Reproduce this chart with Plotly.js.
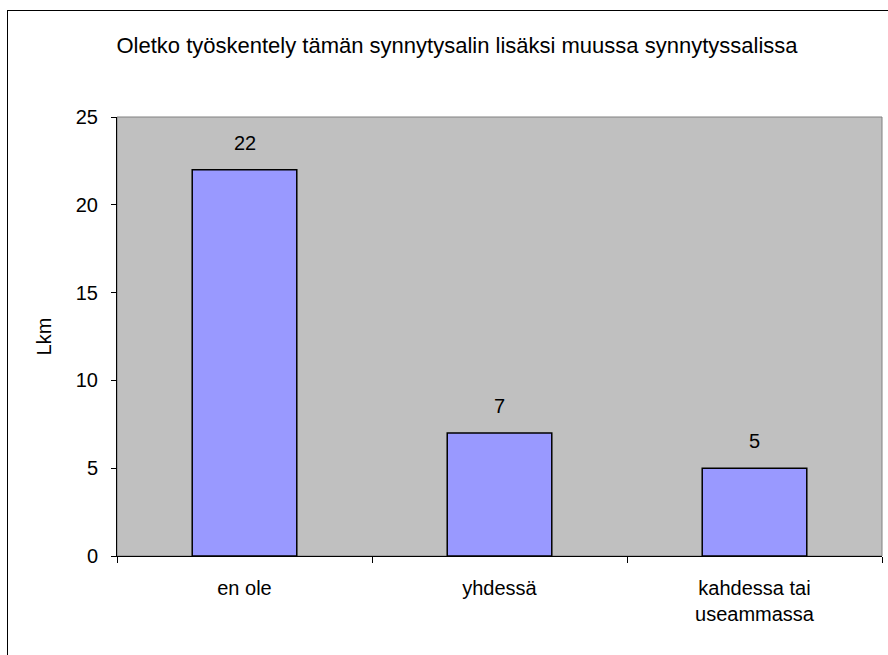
<!DOCTYPE html>
<html>
<head>
<meta charset="utf-8">
<script src="https://cdn.plot.ly/plotly-3.0.1.min.js"></script>
<style>
html,body{margin:0;padding:0;background:#fff;}
#wrap{position:relative;width:888px;height:655px;overflow:hidden;}
#chart{width:888px;height:655px;}
#frame{position:absolute;left:7px;top:10px;width:920px;height:700px;border:1px solid #000;pointer-events:none;}
</style>
</head>
<body>
<div id="wrap"><div id="chart"></div><div id="frame"></div></div>
<script>
const categories = ["en ole", "yhdessä", "kahdessa tai<br>useammassa"];
const values = [22, 7, 5];
const chartTitle = "Oletko työskentely tämän synnytysalin lisäksi muussa synnytyssalissa";
const yTitle = "Lkm";

const font = {family: "Liberation Sans, Arial, sans-serif", size: 20, color: "#000"};
const titleFont = {family: "Liberation Sans, Arial, sans-serif", size: 22, color: "#000"};

const trace = {
  type: "bar",
  x: categories,
  y: values,
  marker: {color: "#9999FF", line: {color: "#000", width: 1.5}},
  hoverinfo: "none"
};

const annotations = categories.map((c, i) => ({
  x: c, y: values[i], xref: "x", yref: "y",
  text: String(values[i]), showarrow: false,
  yshift: 27, font: font
}));

const layout = {
  width: 888, height: 655,
  margin: {l: 117, r: 6, t: 117, b: 99, pad: 0},
  paper_bgcolor: "#fff",
  plot_bgcolor: "#C0C0C0",
  font: font,
  showlegend: false,
  bargap: 0.59,
  title: {text: chartTitle, font: titleFont, x: 457/888, xanchor: "center", xref: "container",
          y: 1 - 45/655, yanchor: "middle", yref: "container"},
  xaxis: {
    type: "category", tickson: "boundaries", ticks: "outside", ticklen: 6, tickcolor: "#000",
    showline: true, linecolor: "#000", linewidth: 1, showgrid: false, zeroline: false,
    ticklabelstandoff: 14, tickfont: font, automargin: false
  },
  yaxis: {
    range: [0, 25], dtick: 5, ticks: "outside", ticklen: 5, tickcolor: "#000",
    showline: true, linecolor: "#000", linewidth: 1, showgrid: false, zeroline: false,
    tickfont: font, automargin: false, ticklabelstandoff: 9,
    title: {text: yTitle, font: font, standoff: 18}
  },
  shapes: [{type: "rect", xref: "paper", yref: "paper", x0: 0, x1: 1, y0: 0, y1: 1,
            line: {color: "#808080", width: 1}, layer: "below"}],
  annotations: annotations
};

Plotly.newPlot("chart", [trace], layout, {displayModeBar: false, staticPlot: true});
</script>
</body>
</html>
